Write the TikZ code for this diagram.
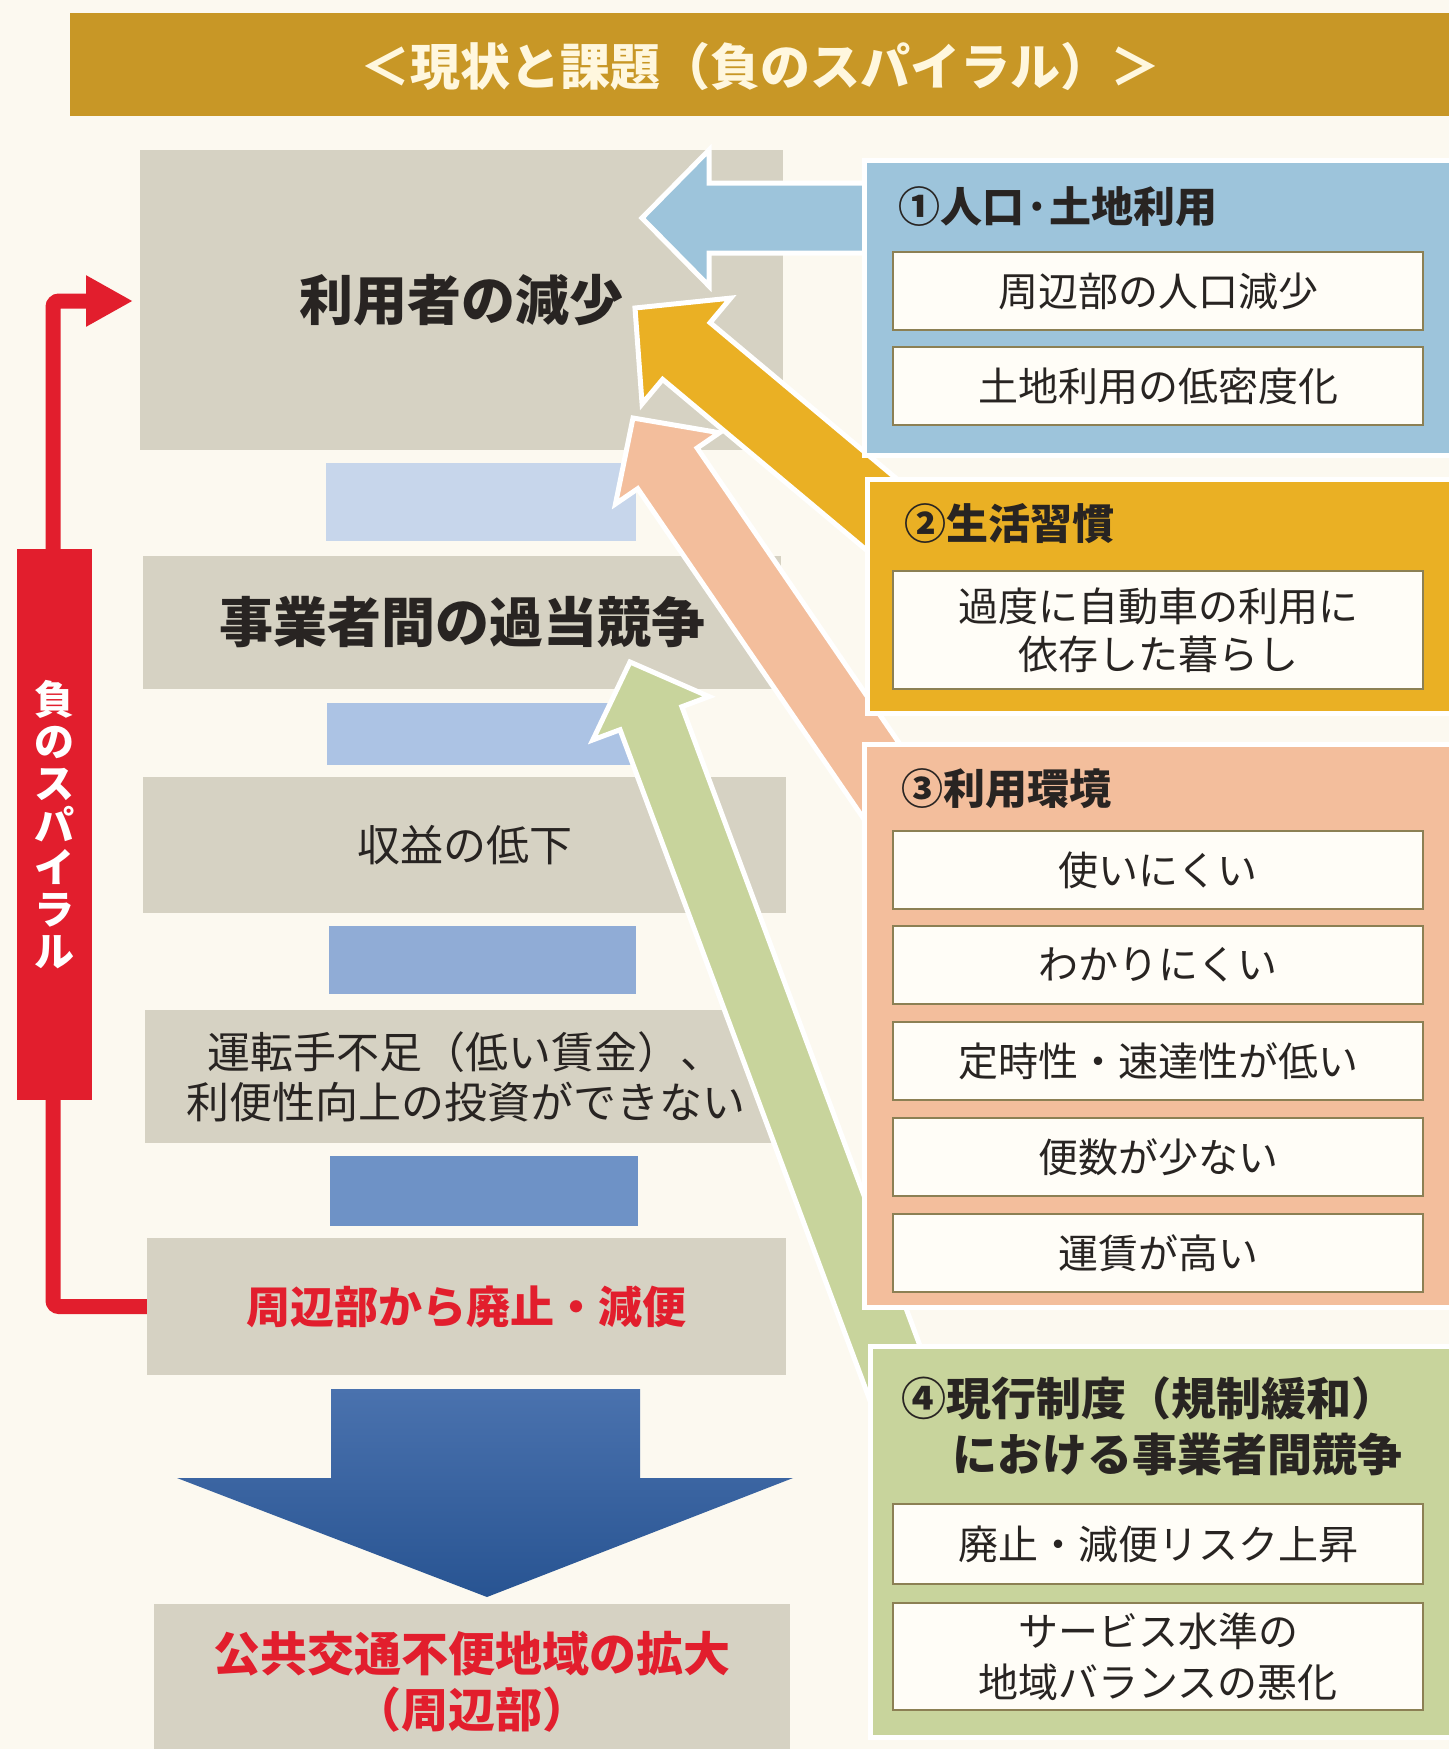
\documentclass[tikz,border=0pt]{standalone}
\usepackage{fontspec}
\setmainfont{Noto Sans CJK JP}
\usetikzlibrary{calc,arrows.meta}
\definecolor{bg}{RGB}{252,249,240}
\definecolor{titlebar}{RGB}{200,151,38}
\definecolor{titletext}{RGB}{255,247,222}
\definecolor{graybox}{RGB}{214,210,195}
\definecolor{barA}{RGB}{199,214,235}
\definecolor{barB}{RGB}{172,195,228}
\definecolor{barC}{RGB}{144,172,214}
\definecolor{barD}{RGB}{110,146,198}
\definecolor{bigtop}{RGB}{74,114,174}
\definecolor{bigbot}{RGB}{40,84,146}
\definecolor{pblue}{RGB}{157,196,219}
\definecolor{pgold}{RGB}{234,176,36}
\definecolor{psalmon}{RGB}{243,190,156}
\definecolor{pgreen}{RGB}{200,212,156}
\definecolor{wbox}{RGB}{255,253,247}
\definecolor{wline}{RGB}{140,128,84}
\definecolor{spiralred}{RGB}{226,30,45}
\definecolor{ink}{RGB}{40,36,34}
\newcommand\fsz[2]{\fontsize{#1}{#2}\selectfont}
\newcommand\fatarrow[6]{%
  \coordinate (fa-b) at ($(#1)!#3!(#2)$);
  \filldraw[fill=#6, draw=white, line width=5pt, line join=miter]
    (#1) -- ($(fa-b)!#4!90:(#2)$) -- ($(fa-b)!#5!90:(#2)$)
    -- ($(#2)!#5!-90:(fa-b)$) -- ($(#2)!#5!90:(fa-b)$)
    -- ($(fa-b)!#5!-90:(#2)$) -- ($(fa-b)!#4!-90:(#2)$) -- cycle;
}
\begin{document}
\begin{tikzpicture}[x=1pt,y=-1pt,
  gbox/.style={fill=graybox, inner sep=0pt, text=ink, align=center},
  bar/.style={inner sep=0pt, anchor=north west},
  wboxst/.style={fill=wbox, draw=wline, line width=2.5pt, inner sep=0pt, text=ink,
     align=center, minimum width=530pt, font=\fsz{40}{49}},
  ptitle/.style={anchor=west, inner sep=0pt, text=ink, font=\bfseries\fsz{42}{50}},
  panel/.style={draw=white, line width=5pt, inner sep=0pt, anchor=north west},
  spiral/.style={draw=spiralred, line width=15pt, rounded corners=6pt}]
\useasboundingbox (0,0) rectangle (1449,1749);
\fill[bg] (0,0) rectangle (1449,1749);

% title
\node[fill=titlebar, minimum width=1400pt, minimum height=103pt, inner sep=0pt, anchor=north west] (titlebar) at (70,13) {};
\node[text=titletext, font=\bfseries\fsz{50}{56}, inner sep=0pt] (title) at (760,66) {＜現状と課題（負のスパイラル）＞};

% left column
\node[gbox, minimum width=643pt, minimum height=300pt, font=\bfseries\fsz{54}{60}] (b1) at (461.5,300) {利用者の減少};
\node[bar, fill=barA, minimum width=310pt, minimum height=78pt] (bar1) at (326,463) {};
\node[gbox, minimum width=638pt, minimum height=133pt, font=\bfseries\fsz{54}{60}] (b2) at (462,622.5) {事業者間の過当競争};
\node[bar, fill=barB, minimum width=307pt, minimum height=62pt] (bar2) at (327,703) {};
\node[gbox, minimum width=643pt, minimum height=136pt, font=\fsz{43}{50}] (b3) at (464.5,845) {収益の低下};
\node[bar, fill=barC, minimum width=307pt, minimum height=68pt] (bar3) at (329,926) {};
\node[gbox, minimum width=641pt, minimum height=133pt, font=\fsz{43}{50}] (b4) at (465.5,1076.5) {運転手不足（低い賃金）、\\利便性向上の投資ができない};
\node[bar, fill=barD, minimum width=308pt, minimum height=70pt] (bar4) at (330,1156) {};
\node[gbox, minimum width=639pt, minimum height=137pt, font=\bfseries\fsz{44}{50}, text=spiralred] (b5) at (466.5,1306.5) {周辺部から廃止・減便};
\shade[top color=bigtop, bottom color=bigbot] (331,1389) -- (640,1389) -- (640,1478) -- (793,1478) -- (487,1597) -- (177,1478) -- (331,1478) -- cycle;
\node[gbox, minimum width=636pt, minimum height=156pt, font=\bfseries\fsz{47}{56}, text=spiralred] (b6) at (472,1682) {公共交通不便地域の拡大\\（周辺部）};

% spiral return line
\coordinate (spiralcorner) at (53,301);
\coordinate (redtip) at (133,301);
\draw[spiral, -{Triangle[length=47pt,width=48pt]}] (b5.west) -| (spiralcorner) -- (redtip);
\node[fill=spiralred, text=white, font=\bfseries\fsz{40}{42}, align=center, minimum width=75pt, minimum height=551pt, inner sep=0pt] (spirallabel) at (54.5,824.5) {負\\の\\ス\\パ\\イ\\ラ\\ル};

% fat arrows
\coordinate (gtip) at (630,662); \coordinate (gtail) at (905,1400);
\fatarrow{gtip}{gtail}{60pt}{62pt}{33pt}{pgreen}
\coordinate (stip) at (633,418); \coordinate (stail) at (900,808);
\fatarrow{stip}{stail}{61pt}{63pt}{36pt}{psalmon}
\coordinate (otip) at (635,308); \coordinate (otail) at (930,555);
\fatarrow{otip}{otail}{67pt}{69pt}{37pt}{pgold}
\coordinate (btip) at (642,218); \coordinate (btail) at (900,218);
\fatarrow{btip}{btail}{67pt}{68pt}{35pt}{pblue}

% panel 1
\node[panel, fill=pblue, minimum width=600pt, minimum height=295pt] (p1) at (862,158) {};
\node[ptitle] (p1t) at (898,207) {①人口·土地利用};
\node[wboxst, minimum height=78pt] (p1a) at (1158,291) {周辺部の人口減少};
\node[wboxst, minimum height=78pt] (p1b) at (1158,386) {土地利用の低密度化};

% panel 2
\node[panel, fill=pgold, minimum width=600pt, minimum height=234pt] (p2) at (865,477) {};
\node[ptitle] (p2t) at (904,524) {②生活習慣};
\node[wboxst, minimum height=118pt, font=\fsz{40}{48}] (p2a) at (1158,630) {過度に自動車の利用に\\依存した暮らし};

% panel 3
\node[panel, fill=psalmon, minimum width=600pt, minimum height=563pt] (p3) at (862,742) {};
\node[ptitle] (p3t) at (901,789) {③利用環境};
\node[wboxst, minimum height=78pt] (p3a) at (1158,870) {使いにくい};
\node[wboxst, minimum height=78pt] (p3b) at (1158,965) {わかりにくい};
\node[wboxst, minimum height=78pt] (p3c) at (1158,1061) {定時性・速達性が低い};
\node[wboxst, minimum height=78pt] (p3d) at (1158,1157) {便数が少ない};
\node[wboxst, minimum height=78pt] (p3e) at (1158,1253) {運賃が高い};

% panel 4
\node[panel, fill=pgreen, minimum width=600pt, minimum height=391pt] (p4) at (868,1344) {};
\node[ptitle, font=\bfseries\fsz{45}{50}] (p4t) at (901,1398) {④現行制度（規制緩和）};
\node[ptitle, font=\bfseries\fsz{45}{50}] (p4u) at (952,1454) {における事業者間競争};
\node[wboxst, minimum height=80pt] (p4a) at (1158,1544) {廃止・減便リスク上昇};
\node[wboxst, minimum height=107pt, font=\fsz{40}{51}] (p4b) at (1158,1656.5) {サービス水準の\\地域バランスの悪化};
\end{tikzpicture}
\end{document}
